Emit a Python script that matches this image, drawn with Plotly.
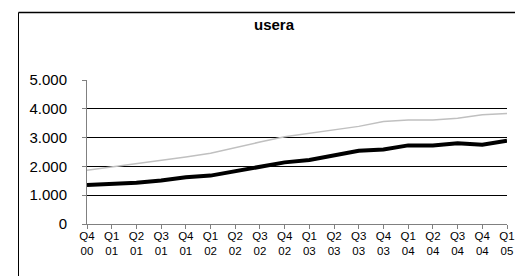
import plotly.graph_objects as go

quarters = ["Q4 00", "Q1 01", "Q2 01", "Q3 01", "Q4 01", "Q1 02", "Q2 02", "Q3 02", "Q4 02",
            "Q1 03", "Q2 03", "Q3 03", "Q4 03", "Q1 04", "Q2 04", "Q3 04", "Q4 04", "Q1 05"]
tick_labels = [q.replace(" ", "<br>") for q in quarters]
series_black = [1350, 1380, 1430, 1510, 1620, 1680, 1830, 2000, 2140,
                2220, 2380, 2545, 2590, 2730, 2730, 2800, 2750, 2890]
series_gray = [1870, 1980, 2110, 2220, 2330, 2460, 2660, 2845, 3030,
               3155, 3270, 3390, 3560, 3615, 3615, 3675, 3790, 3840]
y_ticks = [0, 1000, 2000, 3000, 4000, 5000]

W, H = 523, 276
L, R, T, B = 79, 24, 72, 60
pw, ph = W - L - R, H - T - B

def px(x):
    return (x - L) / pw

def py(y):
    return (H - B - y) / ph

fig = go.Figure()
fig.add_trace(go.Scatter(x=list(range(len(quarters))), y=series_gray, mode="lines",
                         line=dict(color="#c0c0c0", width=1.5), showlegend=False))
fig.add_trace(go.Scatter(x=list(range(len(quarters))), y=series_black, mode="lines",
                         line=dict(color="#000000", width=4), showlegend=False))

fig.update_layout(
    template="none",
    width=W, height=H,
    margin=dict(l=L, r=R, t=T, b=B),
    paper_bgcolor="white", plot_bgcolor="white",
    separators=",.",
    font=dict(family="Liberation Sans, Arial, sans-serif", size=11, color="black"),
    title=dict(text="<b>usera</b>", x=px(266), xanchor="center", xref="paper",
               yref="container", y=1 - 11 / H, yanchor="top",
               font=dict(size=15, color="black")),
    xaxis=dict(range=[0, len(quarters) - 1], tickmode="array",
               tickvals=list(range(len(quarters))), ticktext=tick_labels,
               showgrid=False, zeroline=False, showline=True, linecolor="#808080",
               linewidth=1, ticks="outside", ticklen=4, tickcolor="#808080",
               tickangle=0, tickfont=dict(size=11.5, color="black"),
               ticklabelstandoff=-3),
    yaxis=dict(range=[0, 5000], tickvals=y_ticks, tickformat=",.0f",
               showgrid=True, gridcolor="#000000", gridwidth=1,
               zeroline=False, showline=True, linecolor="#808080", linewidth=1,
               ticks="outside", ticklen=4, tickcolor="#808080",
               tickfont=dict(size=15, color="black"), ticklabelstandoff=12),
    shapes=[
        dict(type="line", xref="paper", yref="paper", x0=px(10.5), x1=px(10.5),
             y0=py(4.5), y1=py(290), line=dict(color="black", width=1)),
        dict(type="line", xref="paper", yref="paper", x0=px(10.5), x1=px(521.5),
             y0=py(4.5), y1=py(4.5), line=dict(color="black", width=1.5)),
        dict(type="line", xref="paper", yref="paper", x0=px(521.5), x1=px(521.5),
             y0=py(4.5), y1=py(290), line=dict(color="#b0b0b0", width=1)),
    ],
)

fig.write_html("out.html")
